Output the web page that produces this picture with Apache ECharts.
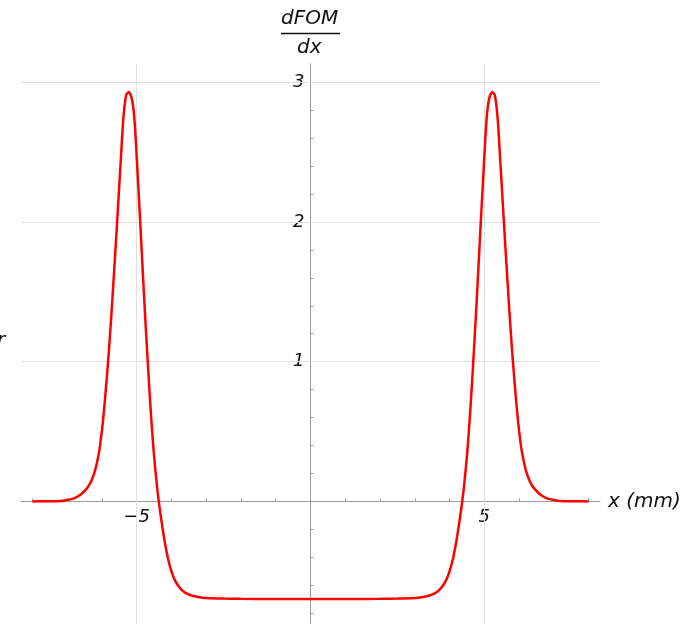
<!DOCTYPE html>
<html>
<head>
<meta charset="utf-8">
<script src="https://cdn.jsdelivr.net/npm/echarts@6/dist/echarts.min.js"></script>
<style>
  html, body { margin: 0; padding: 0; background: #fff; }
  #chart { width: 682px; height: 624px; }
</style>
</head>
<body>
<div id="chart"></div>
<script>
// x positions (mm) and dFOM/dx values
var xValues = [
  -8.0, -7.6, -7.2, -7.0, -6.8, -6.7, -6.6, -6.5, -6.4, -6.3, -6.2, -6.1, -6.05, -6.0, -5.95, -5.9, -5.85,
  -5.8, -5.75, -5.7, -5.65, -5.6, -5.55, -5.5, -5.45, -5.4, -5.35, -5.3, -5.23, -5.16, -5.1, -5.05,
  -5.0, -4.95, -4.9, -4.85, -4.8, -4.75, -4.7, -4.65, -4.6, -4.55, -4.5, -4.45, -4.4, -4.35, -4.3,
  -4.2, -4.1, -4.0, -3.9, -3.8, -3.7, -3.6, -3.4, -3.2, -3.0, -2.5, -2.0, -1.0, 0,
  1.0, 2.0, 2.5, 3.0, 3.2, 3.4, 3.6, 3.7, 3.8, 3.9, 4.0, 4.1, 4.2,
  4.3, 4.35, 4.4, 4.45, 4.5, 4.55, 4.6, 4.65, 4.7, 4.75, 4.8, 4.85, 4.9, 4.95, 5.0,
  5.05, 5.1, 5.16, 5.23, 5.3, 5.35, 5.4, 5.45, 5.5, 5.55, 5.6, 5.65, 5.7, 5.75, 5.8,
  5.85, 5.9, 5.95, 6.0, 6.05, 6.1, 6.2, 6.3, 6.4, 6.5, 6.6, 6.7, 6.8, 7.0, 7.2, 7.6, 8.0
];
var dfomValues = [
  0, 0.001, 0.003, 0.01, 0.022, 0.035, 0.052, 0.075, 0.105, 0.15, 0.22, 0.33, 0.41, 0.51, 0.63, 0.77, 0.92,
  1.08, 1.26, 1.45, 1.65, 1.85, 2.06, 2.27, 2.48, 2.69, 2.83, 2.91, 2.93, 2.9, 2.82, 2.68,
  2.46, 2.23, 2.0, 1.76, 1.52, 1.29, 1.07, 0.86, 0.66, 0.48, 0.32, 0.19, 0.07, -0.03, -0.12,
  -0.28, -0.41, -0.5, -0.565, -0.605, -0.635, -0.655, -0.675, -0.686, -0.691, -0.695, -0.697, -0.698, -0.698,
  -0.698, -0.697, -0.695, -0.691, -0.686, -0.675, -0.655, -0.635, -0.605, -0.565, -0.5, -0.41, -0.28,
  -0.12, -0.03, 0.07, 0.19, 0.32, 0.48, 0.66, 0.86, 1.07, 1.29, 1.52, 1.76, 2.0, 2.23, 2.46,
  2.68, 2.82, 2.9, 2.93, 2.91, 2.83, 2.69, 2.48, 2.27, 2.06, 1.85, 1.65, 1.45, 1.26, 1.08,
  0.92, 0.77, 0.63, 0.51, 0.41, 0.33, 0.22, 0.15, 0.105, 0.075, 0.052, 0.035, 0.022, 0.01, 0.003, 0.001, 0
];
var xTicks = [-8, -7, -6, -4, -3, -2, -1, 1, 2, 3, 4, 6, 7, 8];
var xLabels = [-5, 5];
var yTicks = [-0.8, -0.6, -0.4, -0.2, 0.2, 0.4, 0.6, 0.8, 1, 1.2, 1.4, 1.6, 1.8, 2, 2.2, 2.4, 2.6, 2.8, 3];
var yLabels = [1, 2, 3];
var xGrid = [-5, 5];
var yGrid = [1, 2, 3];

var font = 'DejaVu Sans';
var textColor = '#111';
var axisColor = '#9a9a9a';
var gridColor = '#e0e0e0';

var xMin = -8.33, xMax = 8.33;
var yMin = -0.877, yMax = 3.13;
var gridLeft = 21, gridRight = 82, gridTop = 64, gridBottom = 0;

var chart = echarts.init(document.getElementById('chart'));

// the axes cross at the origin, so shift them into the plot by the origin's pixel offset
var plotW = 682 - gridLeft - gridRight;
var plotH = 624 - gridTop - gridBottom;
var yAxisShift = (0 - xMin) / (xMax - xMin) * plotW;
var xAxisShift = (0 - yMin) / (yMax - yMin) * plotH;

var points = xValues.map(function (x, i) { return [x, dfomValues[i]]; });
var gridLines = xGrid.map(function (v) { return { xAxis: v }; })
  .concat(yGrid.map(function (v) { return { yAxis: v }; }));

chart.setOption({
  animation: false,
  backgroundColor: '#fff',
  grid: {
    left: gridLeft, right: gridRight, top: gridTop, bottom: gridBottom,
    containLabel: false, outerBoundsMode: 'none'
  },
  xAxis: {
    type: 'value',
    min: xMin,
    max: xMax,
    z: 4,
    offset: -xAxisShift,
    name: 'x (mm)',
    nameLocation: 'end',
    nameGap: 8,
    nameTextStyle: { fontFamily: font, fontStyle: 'italic', fontSize: 20, color: textColor },
    axisLine: { onZero: false, lineStyle: { color: axisColor, width: 1 } },
    axisTick: { show: true, inside: true, length: 3, customValues: xTicks, lineStyle: { color: axisColor } },
    axisLabel: {
      customValues: xLabels,
      margin: 7,
      fontFamily: font,
      fontStyle: 'italic',
      fontSize: 18,
      color: textColor,
      formatter: function (v) { return v < 0 ? '\u2212' + Math.abs(v) : String(v); }
    },
    splitLine: { show: false }
  },
  yAxis: {
    type: 'value',
    min: yMin,
    max: yMax,
    z: 4,
    offset: -yAxisShift,
    axisLine: { onZero: false, lineStyle: { color: axisColor, width: 1 } },
    axisTick: { show: true, inside: true, length: 3, customValues: yTicks, lineStyle: { color: axisColor } },
    axisLabel: {
      customValues: yLabels,
      margin: 6,
      fontFamily: font,
      fontStyle: 'italic',
      fontSize: 18,
      color: textColor
    },
    splitLine: { show: false }
  },
  graphic: [
    { type: 'text', left: 281, top: 9, style: { text: 'dFOM', font: 'italic 20px "DejaVu Sans"', fill: textColor } },
    { type: 'line', shape: { x1: 281, y1: 33.5, x2: 340, y2: 33.5 }, style: { stroke: textColor, lineWidth: 1.5 } },
    { type: 'text', left: 297, top: 38, style: { text: 'dx', font: 'italic 20px "DejaVu Sans"', fill: textColor } },
    { type: 'text', left: -3, top: 331, style: { text: 'r', font: 'italic 20px "DejaVu Sans"', fill: textColor } }
  ],
  series: [
    {
      name: 'grid',
      type: 'line',
      data: [],
      z: 1,
      silent: true,
      markLine: {
        silent: true,
        symbol: 'none',
        label: { show: false },
        lineStyle: { color: gridColor, type: 'solid', width: 1 },
        data: gridLines
      }
    },
    {
      name: 'dFOM/dx',
      type: 'line',
      data: points,
      z: 5,
      smooth: 0.2,
      showSymbol: false,
      lineStyle: { color: '#ff0000', width: 2.5 }
    }
  ]
});
</script>
</body>
</html>
